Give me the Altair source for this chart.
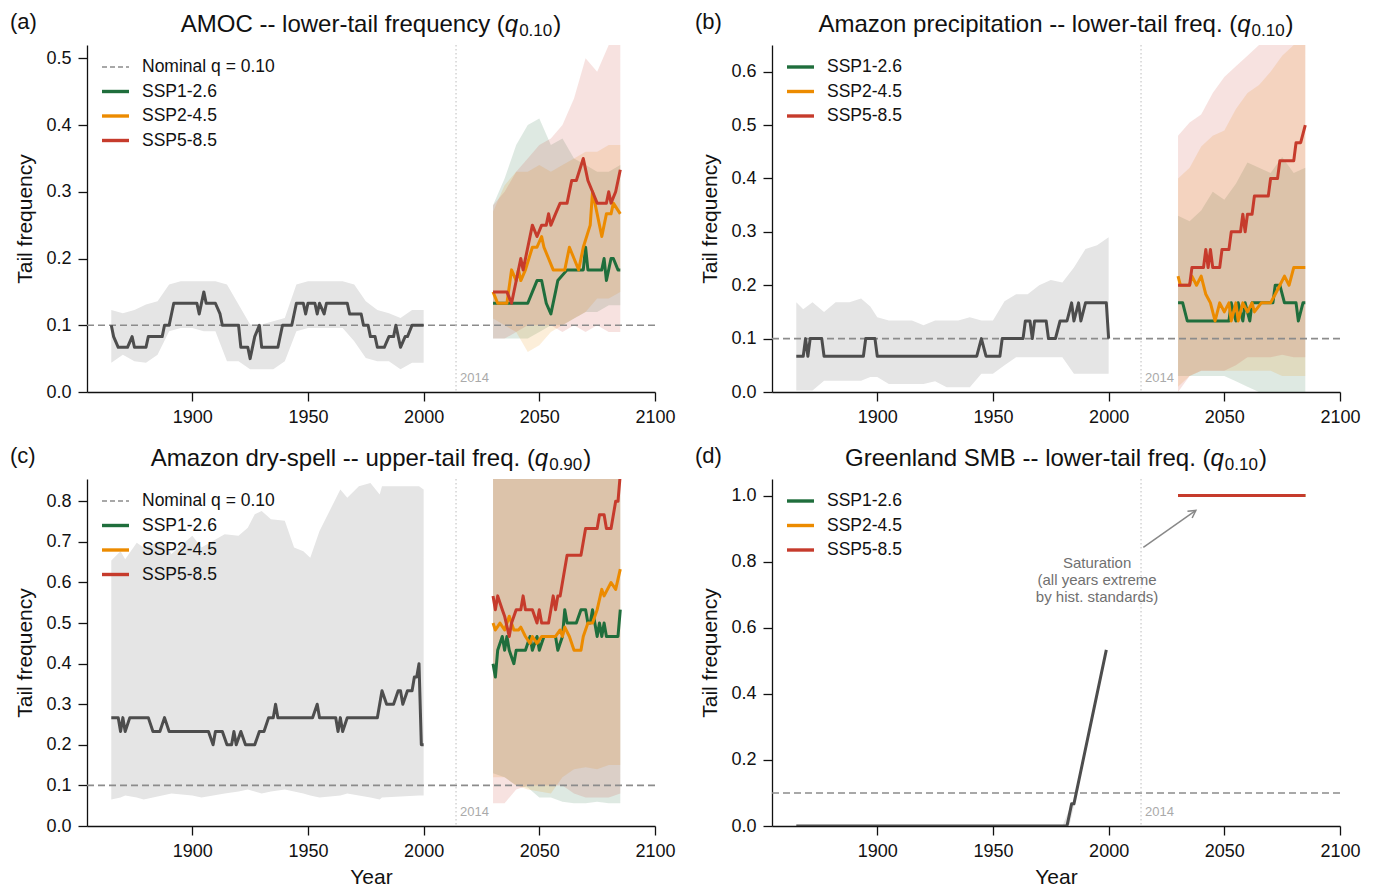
import math
import altair as alt
import pandas as pd

FONT = "Liberation Sans"
C_GREEN, C_ORANGE, C_RED = "#1f6e3c", "#ec8b00", "#c63b2c"
C_HIST, C_BAND, C_NOM = "#4d4d4d", "#e5e5e5", "#8c8c8c"
C_TEXT = "#111111"

W, H = 568, 347
X_DOMAIN = [1854.5, 2100]
X_TICKS = [1900, 1950, 2000, 2050, 2100]
SCENARIOS = ["SSP1-2.6", "SSP2-4.5", "SSP5-8.5"]
SCEN_COLORS = [C_GREEN, C_ORANGE, C_RED]
NOMINAL_Q = 0.1
REF_YEAR = 2014

# ---------------- (a) AMOC lower tail ----------------
a_hist_years = [1865, 1866, 1868, 1872, 1874, 1875, 1880, 1881, 1887, 1888, 1890, 1892, 1902, 1903, 1905,
                1906, 1910, 1912, 1913, 1920, 1921, 1924, 1925, 1927, 1929, 1930, 1937, 1939, 1943, 1945,
                1948, 1949, 1950, 1953, 1954, 1955, 1957, 1958, 1967, 1968, 1973, 1974, 1976, 1977, 1979,
                1980, 1983, 1985, 1987, 1988, 1990, 1992, 1993, 1995, 2000]
a_hist_vals = [0.100, 0.083, 0.067, 0.067, 0.083, 0.067, 0.067, 0.083, 0.083, 0.100, 0.100, 0.133, 0.133, 0.117, 0.150,
               0.133, 0.133, 0.117, 0.100, 0.100, 0.067, 0.067, 0.050, 0.083, 0.100, 0.067, 0.067, 0.100, 0.100, 0.133,
               0.133, 0.117, 0.133, 0.133, 0.117, 0.133, 0.117, 0.133, 0.133, 0.117, 0.117, 0.100, 0.100, 0.083, 0.083,
               0.067, 0.067, 0.083, 0.083, 0.100, 0.067, 0.083, 0.083, 0.100, 0.100]
a_band_years = [1865, 1870, 1875, 1880, 1885, 1890, 1895, 1900, 1905, 1910, 1915, 1920, 1925, 1930,
                1935, 1940, 1945, 1950, 1955, 1960, 1965, 1970, 1975, 1980, 1985, 1990, 1995, 2000]
a_band_hi = [0.123, 0.118, 0.123, 0.131, 0.136, 0.161, 0.166, 0.166, 0.166, 0.166, 0.161, 0.131, 0.101, 0.101,
             0.106, 0.111, 0.161, 0.166, 0.166, 0.166, 0.166, 0.161, 0.136, 0.123, 0.118, 0.111, 0.123, 0.123]
a_band_lo = [0.044, 0.056, 0.046, 0.044, 0.056, 0.091, 0.096, 0.096, 0.091, 0.091, 0.046, 0.046, 0.034, 0.034,
             0.034, 0.046, 0.091, 0.096, 0.096, 0.096, 0.096, 0.076, 0.051, 0.046, 0.046, 0.034, 0.044, 0.044]
a_126_years = [2030, 2045, 2047, 2049, 2051, 2052, 2053, 2055, 2057, 2058, 2062, 2069, 2070, 2071, 2077,
               2078, 2079, 2081, 2082, 2084, 2085]
a_126_vals = [0.133, 0.133, 0.150, 0.167, 0.167, 0.150, 0.133, 0.117, 0.150, 0.167, 0.183, 0.183, 0.217, 0.183, 0.183,
              0.200, 0.167, 0.200, 0.200, 0.183, 0.183]
a_245_years = [2030, 2032, 2036, 2038, 2040, 2041, 2042, 2044, 2047, 2049, 2051, 2052, 2054, 2056, 2061,
               2063, 2065, 2067, 2069, 2072, 2073, 2075, 2077, 2079, 2081, 2082, 2085]
a_245_vals = [0.150, 0.133, 0.133, 0.183, 0.167, 0.183, 0.167, 0.183, 0.217, 0.217, 0.233, 0.217, 0.200, 0.183, 0.183,
              0.217, 0.200, 0.183, 0.217, 0.250, 0.300, 0.267, 0.233, 0.267, 0.267, 0.283, 0.267]
a_585_years = [2030, 2036, 2038, 2042, 2043, 2047, 2049, 2051, 2053, 2054, 2055, 2057, 2059, 2062, 2064,
               2066, 2069, 2071, 2073, 2075, 2079, 2080, 2081, 2083, 2085]
a_585_vals = [0.150, 0.150, 0.133, 0.200, 0.183, 0.250, 0.233, 0.250, 0.250, 0.267, 0.250, 0.267, 0.283, 0.283, 0.317,
              0.317, 0.350, 0.317, 0.300, 0.283, 0.283, 0.300, 0.283, 0.300, 0.333]
a_pb_years = [2030, 2035, 2040, 2045, 2050, 2055, 2060, 2065, 2070, 2075, 2080, 2085]
a_126_hi = [0.28, 0.32, 0.37, 0.40, 0.41, 0.37, 0.38, 0.35, 0.34, 0.33, 0.33, 0.34]
a_126_lo = [0.08, 0.08, 0.08, 0.08, 0.09, 0.10, 0.10, 0.11, 0.12, 0.12, 0.13, 0.13]
a_245_hi = [0.27, 0.31, 0.33, 0.33, 0.34, 0.33, 0.34, 0.35, 0.36, 0.36, 0.37, 0.37]
a_245_lo = [0.11, 0.10, 0.09, 0.06, 0.07, 0.09, 0.10, 0.11, 0.12, 0.14, 0.14, 0.15]
a_585_hi = [0.28, 0.30, 0.33, 0.35, 0.37, 0.38, 0.40, 0.44, 0.50, 0.48, 0.52, 0.53]
a_585_lo = [0.08, 0.08, 0.09, 0.10, 0.10, 0.10, 0.09, 0.10, 0.09, 0.10, 0.09, 0.09]

# ---------------- (b) Amazon precipitation lower tail ----------------
b_hist_years = [1865, 1868, 1869, 1870, 1871, 1876, 1877, 1894, 1895, 1899, 1900, 1943, 1945, 1947, 1953,
                1954, 1963, 1964, 1966, 1967, 1968, 1973, 1974, 1977, 1979, 1982, 1984, 1985, 1987, 1988,
                1990, 1999, 2000]
b_hist_vals = [0.067, 0.067, 0.100, 0.067, 0.100, 0.100, 0.067, 0.067, 0.100, 0.100, 0.067, 0.067, 0.100, 0.067, 0.067,
               0.100, 0.100, 0.133, 0.133, 0.100, 0.133, 0.133, 0.100, 0.100, 0.133, 0.133, 0.167, 0.133, 0.167, 0.133,
               0.167, 0.167, 0.100]
b_band_years = [1865, 1868, 1872, 1877, 1882, 1888, 1893, 1897, 1900, 1905, 1910, 1915, 1920, 1925, 1930,
                1935, 1940, 1945, 1950, 1955, 1960, 1965, 1970, 1975, 1980, 1985, 1990, 1995, 2000]
b_band_hi = [0.168, 0.155, 0.168, 0.150, 0.168, 0.168, 0.175, 0.160, 0.140, 0.134, 0.134, 0.134, 0.125, 0.134, 0.134,
             0.134, 0.140, 0.134, 0.134, 0.170, 0.183, 0.183, 0.200, 0.210, 0.205, 0.233, 0.268, 0.275, 0.290]
b_band_lo = [0.003, 0.003, 0.003, 0.021, 0.021, 0.021, 0.021, 0.028, 0.028, 0.015, 0.015, 0.015, 0.015, 0.020, 0.009,
             0.009, 0.009, 0.034, 0.034, 0.050, 0.065, 0.065, 0.065, 0.065, 0.065, 0.034, 0.034, 0.034, 0.034]
b_126_years = [2030, 2032, 2034, 2052, 2053, 2055, 2056, 2058, 2059, 2061, 2062, 2071, 2072, 2074, 2076,
               2081, 2082, 2084, 2085]
b_126_vals = [0.167, 0.167, 0.133, 0.133, 0.167, 0.133, 0.167, 0.133, 0.167, 0.133, 0.167, 0.167, 0.200, 0.200, 0.167,
              0.167, 0.133, 0.167, 0.167]
b_245_years = [2030, 2031, 2035, 2036, 2038, 2040, 2042, 2044, 2046, 2048, 2050, 2052, 2053, 2055, 2056,
               2058, 2060, 2062, 2063, 2066, 2070, 2072, 2074, 2076, 2078, 2080, 2085]
b_245_vals = [0.217, 0.200, 0.200, 0.217, 0.200, 0.217, 0.183, 0.167, 0.133, 0.167, 0.150, 0.167, 0.133, 0.167, 0.133,
              0.167, 0.150, 0.167, 0.150, 0.167, 0.167, 0.183, 0.200, 0.217, 0.200, 0.233, 0.233]
b_585_years = [2030, 2035, 2036, 2041, 2042, 2043, 2044, 2045, 2048, 2049, 2052, 2053, 2057, 2058, 2059,
               2060, 2062, 2063, 2069, 2070, 2073, 2074, 2080, 2081, 2083, 2085]
b_585_vals = [0.200, 0.200, 0.233, 0.233, 0.267, 0.233, 0.267, 0.233, 0.233, 0.267, 0.267, 0.300, 0.300, 0.333, 0.300,
              0.333, 0.333, 0.367, 0.367, 0.400, 0.400, 0.433, 0.433, 0.467, 0.467, 0.500]
b_pb_years = [2030, 2035, 2040, 2045, 2050, 2055, 2060, 2065, 2070, 2075, 2080, 2085]
b_126_hi = [0.33, 0.32, 0.34, 0.375, 0.36, 0.39, 0.43, 0.42, 0.41, 0.44, 0.41, 0.42]
b_126_lo = [0.03, 0.03, 0.03, 0.03, 0.03, 0.02, 0.01, 0.00, 0.00, 0.00, 0.00, 0.00]
b_245_hi = [0.40, 0.42, 0.46, 0.48, 0.49, 0.53, 0.56, 0.575, 0.60, 0.63, 0.65, 0.66]
b_245_lo = [0.01, 0.03, 0.04, 0.04, 0.04, 0.04, 0.04, 0.04, 0.04, 0.03, 0.03, 0.03]
b_585_hi = [0.48, 0.505, 0.52, 0.56, 0.59, 0.61, 0.63, 0.65, 0.68, 0.72, 0.74, 0.75]
b_585_lo = [0.00, 0.03, 0.04, 0.04, 0.04, 0.05, 0.065, 0.065, 0.065, 0.07, 0.065, 0.065]

# ---------------- (c) Amazon dry-spell upper tail ----------------
c_hist_years = [1865, 1868, 1869, 1870, 1871, 1873, 1881, 1883, 1886, 1888, 1890, 1907, 1909, 1910, 1913,
                1915, 1917, 1918, 1919, 1921, 1923, 1927, 1929, 1931, 1933, 1935, 1936, 1937, 1952, 1954,
                1955, 1962, 1963, 1964, 1965, 1967, 1980, 1982, 1984, 1987, 1989, 1990, 1991, 1993, 1995,
                1996, 1997, 1998, 1999, 2000]
c_hist_vals = [0.267, 0.267, 0.233, 0.267, 0.233, 0.267, 0.267, 0.233, 0.233, 0.267, 0.233, 0.233, 0.200, 0.233, 0.233,
               0.200, 0.200, 0.233, 0.200, 0.233, 0.200, 0.200, 0.233, 0.233, 0.267, 0.267, 0.300, 0.267, 0.267, 0.300,
               0.267, 0.267, 0.233, 0.267, 0.233, 0.267, 0.267, 0.333, 0.300, 0.300, 0.333, 0.333, 0.300, 0.333, 0.333,
               0.367, 0.367, 0.400, 0.200, 0.200]
c_band_years = [1865, 1869, 1871, 1876, 1879, 1887, 1891, 1900, 1904, 1914, 1920, 1924, 1927, 1930,
                1934, 1940, 1944, 1948, 1951, 1955, 1964, 1967, 1972, 1977, 1981, 1982, 1998, 2000]
c_band_hi = [0.654, 0.677, 0.657, 0.698, 0.686, 0.703, 0.670, 0.715, 0.686, 0.719, 0.715, 0.735, 0.768, 0.776,
             0.756, 0.752, 0.686, 0.677, 0.661, 0.727, 0.829, 0.809, 0.837, 0.845, 0.817, 0.837, 0.837, 0.829]
c_band_lo = [0.065, 0.070, 0.075, 0.070, 0.065, 0.075, 0.080, 0.075, 0.070, 0.080, 0.085, 0.090, 0.085, 0.080,
             0.085, 0.090, 0.085, 0.080, 0.075, 0.070, 0.075, 0.080, 0.075, 0.070, 0.065, 0.070, 0.075, 0.075]
c_126_years = [2030, 2031, 2032, 2034, 2035, 2036, 2037, 2039, 2040, 2044, 2046, 2047, 2049, 2050, 2052,
               2057, 2058, 2060, 2061, 2062, 2066, 2068, 2070, 2071, 2072, 2073, 2075, 2076, 2077, 2078,
               2079, 2084, 2085]
c_126_vals = [0.400, 0.367, 0.433, 0.467, 0.433, 0.467, 0.433, 0.400, 0.433, 0.433, 0.467, 0.433, 0.467, 0.433, 0.467,
              0.467, 0.433, 0.467, 0.533, 0.500, 0.500, 0.533, 0.533, 0.500, 0.500, 0.533, 0.467, 0.500, 0.467, 0.500,
              0.467, 0.467, 0.533]
c_245_years = [2030, 2031, 2033, 2035, 2037, 2039, 2041, 2042, 2044, 2046, 2047, 2049, 2051, 2057, 2059,
               2060, 2061, 2063, 2065, 2068, 2069, 2071, 2073, 2075, 2077, 2078, 2081, 2083, 2085]
c_245_vals = [0.500, 0.483, 0.500, 0.483, 0.517, 0.483, 0.483, 0.490, 0.467, 0.450, 0.467, 0.450, 0.467, 0.467, 0.483,
              0.467, 0.490, 0.467, 0.433, 0.433, 0.467, 0.500, 0.500, 0.533, 0.583, 0.567, 0.600, 0.583, 0.633]
c_585_years = [2030, 2031, 2032, 2034, 2035, 2037, 2038, 2040, 2042, 2043, 2044, 2047, 2049, 2050, 2051,
               2054, 2055, 2056, 2057, 2058, 2059, 2062, 2068, 2070, 2075, 2076, 2078, 2079, 2081, 2083,
               2084, 2085]
c_585_vals = [0.567, 0.533, 0.567, 0.533, 0.517, 0.467, 0.500, 0.533, 0.533, 0.567, 0.533, 0.533, 0.500, 0.533, 0.500,
              0.500, 0.533, 0.567, 0.533, 0.567, 0.567, 0.667, 0.667, 0.733, 0.733, 0.767, 0.767, 0.733, 0.733, 0.800,
              0.800, 0.867]
c_pb_years = [2030, 2035, 2040, 2045, 2050, 2055, 2060, 2065, 2070, 2075, 2080, 2085]
c_126_hi = [1.0] * 12
c_126_lo = [0.13, 0.12, 0.10, 0.095, 0.07, 0.07, 0.06, 0.056, 0.056, 0.06, 0.056, 0.056]
c_245_hi = [1.0] * 12
c_245_lo = [0.12, 0.12, 0.10, 0.09, 0.085, 0.08, 0.12, 0.14, 0.145, 0.14, 0.15, 0.15]
c_585_hi = [1.0] * 12
c_585_lo = [0.056, 0.056, 0.09, 0.10, 0.10, 0.10, 0.10, 0.08, 0.07, 0.07, 0.07, 0.08]

# ---------------- (d) Greenland SMB lower tail ----------------
d_hist_years = [1865, 1982, 1984, 1985, 1999]
d_hist_vals = [0.0, 0.0, 0.067, 0.067, 0.533]
d_band_years = [1865, 1980, 1983, 1985, 1999]
d_band_hi = [0.0, 0.0, 0.05, 0.08, 0.533]
d_band_lo = [0.0, 0.0, 0.0, 0.06, 0.533]
d_proj_years = [2030, 2085]
d_126_vals = [1.0, 1.0]
d_245_vals = [1.0, 1.0]
d_585_vals = [1.0, 1.0]

# ---------------- helpers ----------------
ARIAL = {" ": 278, "(": 333, ")": 333, "-": 333, ".": 278, "=": 584,
         "A": 667, "B": 667, "C": 722, "D": 722, "E": 667, "F": 611, "G": 778, "H": 722, "I": 278,
         "L": 556, "M": 833, "N": 722, "O": 778, "P": 667, "S": 667, "T": 611,
         "a": 556, "b": 556, "c": 500, "d": 556, "e": 556, "f": 278, "g": 556, "h": 556, "i": 222,
         "k": 500, "l": 222, "m": 833, "n": 556, "o": 556, "p": 556, "q": 556, "r": 333, "s": 500,
         "t": 278, "u": 556, "w": 722, "y": 500, "z": 500}


def text_width(s, size):
    return sum(ARIAL.get(ch, 556) for ch in s) * size / 1000.0


DUMMY = pd.DataFrame({"d": [0]})
TITLE_FS, SUB_FS = 24, 17
LEG_TOP, LEG_STEP = 22, 24.5


def const_text(text, x, y, **kw):
    base = dict(font=FONT, color=C_TEXT)
    base.update(kw)
    return alt.Chart(DUMMY).mark_text(**base).encode(
        x=alt.value(x), y=alt.value(y), text=alt.value(text))


def title_layers(main, sub):
    w_main = text_width(main, TITLE_FS)
    w_q = text_width("q", TITLE_FS)
    w_sub = text_width(sub, SUB_FS)
    total = w_main + w_q + 1 + w_sub + 1 + text_width(")", TITLE_FS)
    x0 = W / 2 - total / 2
    ty = -13
    return [
        const_text(main, x0, ty, align="left", baseline="alphabetic", fontSize=TITLE_FS),
        const_text("q", x0 + w_main, ty, align="left", baseline="alphabetic", fontSize=TITLE_FS,
                   fontStyle="italic"),
        const_text(sub, x0 + w_main + w_q + 1, ty + 4, align="left", baseline="alphabetic", fontSize=SUB_FS),
        const_text(")", x0 + w_main + w_q + 1 + w_sub + 1, ty, align="left", baseline="alphabetic",
                   fontSize=TITLE_FS),
    ]


def legend_layers(with_nominal):
    entries = []
    if with_nominal:
        entries.append(("Nominal q = 0.10", C_NOM, True))
    for s, c in zip(SCENARIOS, SCEN_COLORS):
        entries.append((s, c, False))
    layers = []
    for i, (label, color, dashed) in enumerate(entries):
        yy = LEG_TOP + i * LEG_STEP
        if dashed:
            mk = alt.Chart(DUMMY).mark_rule(color=color, strokeWidth=1.6, strokeDash=[5, 3])
        else:
            mk = alt.Chart(DUMMY).mark_rule(color=color, strokeWidth=3.4)
        layers.append(mk.encode(x=alt.value(15), x2=alt.value(42), y=alt.value(yy)))
        layers.append(const_text(label, 55, yy, align="left", baseline="middle", fontSize=17.5))
    return layers


def panel(p):
    xs = alt.Scale(domain=X_DOMAIN, nice=False, zero=False)
    ys = alt.Scale(domain=[0, p["ymax"]], nice=False, zero=False)
    xax = alt.Axis(values=X_TICKS, format="d", title="Year" if p["bottom"] else None)
    yax = alt.Axis(values=p["yticks"], format=".1f", title="Tail frequency")

    def X(field="year"):
        return alt.X(f"{field}:Q", scale=xs, axis=xax)

    def Y(field):
        return alt.Y(f"{field}:Q", scale=ys, axis=yax)

    layers = []
    hb = pd.DataFrame({"year": p["band_years"], "lo": p["band_lo"], "hi": p["band_hi"]})
    layers.append(alt.Chart(hb).mark_area(color=C_BAND, opacity=1, clip=True).encode(
        x=X(), y=Y("lo"), y2="hi:Q"))
    for (lo, hi), color in zip(p["proj_bands"], SCEN_COLORS):
        df = pd.DataFrame({"year": p["pb_years"], "lo": lo, "hi": hi})
        layers.append(alt.Chart(df).mark_area(color=color, opacity=0.15, clip=True).encode(
            x=X(), y=Y("lo"), y2="hi:Q"))
    layers.append(alt.Chart(pd.DataFrame({"v": [NOMINAL_Q]})).mark_rule(
        color=C_NOM, strokeWidth=1.6, strokeDash=[7, 4]).encode(y=Y("v")))
    ref = pd.DataFrame({"year": [REF_YEAR]})
    layers.append(alt.Chart(ref).mark_rule(color="#c8c8c8", strokeWidth=1.2, strokeDash=[1.5, 2.5]).encode(x=X()))
    layers.append(alt.Chart(ref).mark_text(align="left", baseline="middle", dx=4, font=FONT, fontSize=13,
                                           color="#aaaaaa").encode(
        x=X(), y=alt.value(H - 14), text=alt.value(str(REF_YEAR))))
    hl = pd.DataFrame({"year": p["hist_years"], "v": p["hist_vals"]})
    layers.append(alt.Chart(hl).mark_line(color=C_HIST, strokeWidth=3, strokeJoin="round", clip=True).encode(
        x=X(), y=Y("v")))
    for (yrs, vals), color in zip(p["proj_lines"], SCEN_COLORS):
        df = pd.DataFrame({"year": yrs, "v": vals})
        layers.append(alt.Chart(df).mark_line(color=color, strokeWidth=3, strokeJoin="round", clip=True).encode(
            x=X(), y=Y("v")))
    layers += legend_layers(p["nominal_legend"])
    layers += title_layers(p["title"], p["sub"])
    layers.append(const_text(p["letter"], -77, -33, align="left", baseline="top", fontSize=22))

    if p.get("annotate"):
        x1, y1, x2, y2 = 2015.0, 0.843, 2037.7, 0.955
        arr = pd.DataFrame({"year": [x1], "year2": [x2], "v": [y1], "v2": [y2]})
        layers.append(alt.Chart(arr).mark_rule(color="#888888", strokeWidth=1.5).encode(
            x=X(), x2="year2:Q", y=Y("v"), y2="v2:Q"))
        dxp = (x2 - x1) * W / (X_DOMAIN[1] - X_DOMAIN[0])
        dyp = (y2 - y1) * H / p["ymax"]
        ang = math.degrees(math.atan2(dxp, dyp)) % 360
        head = pd.DataFrame({"year": [x2], "v": [y2]})
        layers.append(alt.Chart(head).mark_point(
            shape="M -0.55 1 L 0 0 L 0.55 1", filled=False, stroke="#888888", strokeWidth=1.5,
            size=220, angle=ang, opacity=1).encode(x=X(), y=Y("v")))
        note = pd.DataFrame({"year": [1995.0], "v": [0.818]})
        layers.append(alt.Chart(note).mark_text(
            align="center", baseline="top", font=FONT, fontSize=15, color="#707070", lineHeight=17,
            lineBreak="\n").encode(
            x=X(), y=Y("v"), text=alt.value("Saturation\n(all years extreme\nby hist. standards)")))

    return alt.layer(*layers).properties(width=W, height=H)


pa = panel(dict(letter="(a)", title="AMOC -- lower-tail frequency (", sub="0.10", ymax=0.52,
                yticks=[0.0, 0.1, 0.2, 0.3, 0.4, 0.5], bottom=False, nominal_legend=True,
                hist_years=a_hist_years, hist_vals=a_hist_vals,
                band_years=a_band_years, band_lo=a_band_lo, band_hi=a_band_hi,
                pb_years=a_pb_years,
                proj_bands=[(a_126_lo, a_126_hi), (a_245_lo, a_245_hi), (a_585_lo, a_585_hi)],
                proj_lines=[(a_126_years, a_126_vals), (a_245_years, a_245_vals), (a_585_years, a_585_vals)]))
pb = panel(dict(letter="(b)", title="Amazon precipitation -- lower-tail freq. (", sub="0.10", ymax=0.65,
                yticks=[0.0, 0.1, 0.2, 0.3, 0.4, 0.5, 0.6], bottom=False, nominal_legend=False,
                hist_years=b_hist_years, hist_vals=b_hist_vals,
                band_years=b_band_years, band_lo=b_band_lo, band_hi=b_band_hi,
                pb_years=b_pb_years,
                proj_bands=[(b_126_lo, b_126_hi), (b_245_lo, b_245_hi), (b_585_lo, b_585_hi)],
                proj_lines=[(b_126_years, b_126_vals), (b_245_years, b_245_vals), (b_585_years, b_585_vals)]))
pc = panel(dict(letter="(c)", title="Amazon dry-spell -- upper-tail freq. (", sub="0.90", ymax=0.855,
                yticks=[0.0, 0.1, 0.2, 0.3, 0.4, 0.5, 0.6, 0.7, 0.8], bottom=True, nominal_legend=True,
                hist_years=c_hist_years, hist_vals=c_hist_vals,
                band_years=c_band_years, band_lo=c_band_lo, band_hi=c_band_hi,
                pb_years=c_pb_years,
                proj_bands=[(c_126_lo, c_126_hi), (c_245_lo, c_245_hi), (c_585_lo, c_585_hi)],
                proj_lines=[(c_126_years, c_126_vals), (c_245_years, c_245_vals), (c_585_years, c_585_vals)]))
pd_ = panel(dict(letter="(d)", title="Greenland SMB -- lower-tail freq. (", sub="0.10", ymax=1.05,
                 yticks=[0.0, 0.2, 0.4, 0.6, 0.8, 1.0], bottom=True, nominal_legend=False,
                 hist_years=d_hist_years, hist_vals=d_hist_vals,
                 band_years=d_band_years, band_lo=d_band_lo, band_hi=d_band_hi,
                 pb_years=d_proj_years,
                 proj_bands=[(d_126_vals, d_126_vals), (d_245_vals, d_245_vals), (d_585_vals, d_585_vals)],
                 proj_lines=[(d_proj_years, d_126_vals), (d_proj_years, d_245_vals), (d_proj_years, d_585_vals)],
                 annotate=True))

chart = alt.concat(pa, pb, pc, pd_, columns=2, spacing=alt.RowColnumber(row=87, column=117),
                   bounds="flush").properties(
    padding={"left": 2, "top": 3, "right": 0, "bottom": 0}, background="white"
).configure_view(stroke=None).configure_axis(
    labelFont=FONT, titleFont=FONT, labelFontSize=18, titleFontSize=21, titleFontWeight="normal",
    labelColor=C_TEXT, titleColor=C_TEXT, domainColor=C_TEXT, tickColor=C_TEXT,
    tickSize=9, domainWidth=1.3, tickWidth=1.3, labelPadding=7, grid=False, labelFlush=False
).configure_axisX(titlePadding=6).configure_axisY(titlePadding=10)

chart.save("out.html", embed_options={"renderer": "svg", "actions": False})
